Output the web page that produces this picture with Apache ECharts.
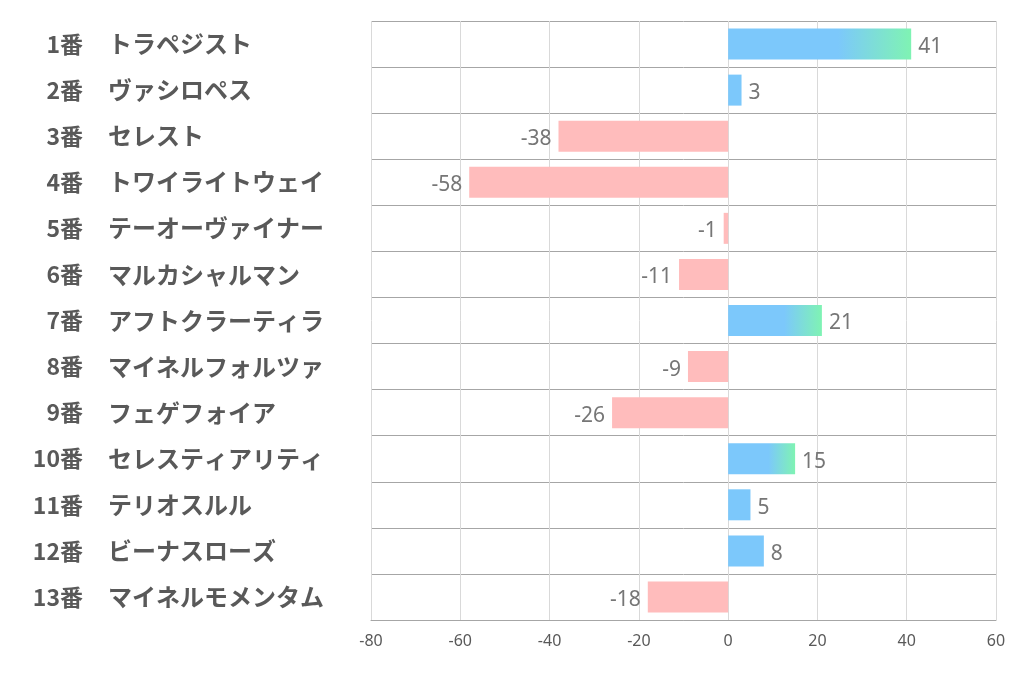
<!DOCTYPE html>
<html><head><meta charset="utf-8">
<script src="https://cdn.jsdelivr.net/npm/echarts@6/dist/echarts.min.js"></script>
<style>html,body{margin:0;padding:0;background:#fff}#c{width:1022px;height:678px}</style>
</head><body><div id="c"></div>
<script>
const numbers = ['1番','2番','3番','4番','5番','6番','7番','8番','9番','10番','11番','12番','13番'];
const horses = ['トラペジスト','ヴァシロペス','セレスト','トワイライトウェイ','テーオーヴァイナー','マルカシャルマン','アフトクラーティラ','マイネルフォルツァ','フェゲフォイア','セレスティアリティ','テリオスルル','ビーナスローズ','マイネルモメンタム'];
const values = [41,3,-38,-58,-1,-11,21,-9,-26,15,5,8,-18];
const xTicks = [-80,-60,-40,-20,0,20,40,60];

const BLUE='#7cc8fb', GREEN='#7ff3b3', PINK='#ffbcbc';
const chart = echarts.init(document.getElementById('c'), null, {renderer:'canvas'});
const data = values.map(v=>{
  let color;
  if (v < 0) color = PINK;
  else if (v >= 10) color = new echarts.graphic.LinearGradient(0,0,1,0,[{offset:0,color:BLUE},{offset:0.6,color:BLUE},{offset:1,color:GREEN}]);
  else color = BLUE;
  return {value:v, itemStyle:{color}, label:{position: v<0?'left':'right'}};
});
const labelFont = {fontWeight:'bold',color:'#595959',fontFamily:'"Noto Sans CJK JP"'};
chart.setOption({
  animation:false,
  grid:{left:371,right:26,top:21,bottom:58,containLabel:false},
  xAxis:{type:'value',min:xTicks[0],max:xTicks[xTicks.length-1],interval:20,
    axisLine:{show:true,lineStyle:{color:'#a6a6a6',width:1}},
    axisTick:{show:false},
    axisLabel:{color:'#595959',fontSize:16,margin:13,fontFamily:'Noto Sans'},
    splitLine:{show:true,lineStyle:{color:'#d9d9d9',width:1}}},
  yAxis:[
    {type:'category',data:numbers,inverse:true,position:'left',
      axisLine:{show:false},axisTick:{show:false},
      splitLine:{show:true,lineStyle:{color:'#a6a6a6',width:1}},
      axisLabel:Object.assign({align:'right',margin:288,fontSize:23},labelFont)},
    {type:'category',data:horses,inverse:true,position:'left',
      axisLine:{show:false},axisTick:{show:false},splitLine:{show:false},
      axisLabel:Object.assign({align:'left',margin:263,fontSize:24},labelFont)}
  ],
  series:[{type:'bar',yAxisIndex:0,data:data,barWidth:31,
    label:{show:true,distance:7,color:'#767676',fontSize:21,fontFamily:'Noto Sans',offset:[0,3]}}]
});
</script></body></html>
